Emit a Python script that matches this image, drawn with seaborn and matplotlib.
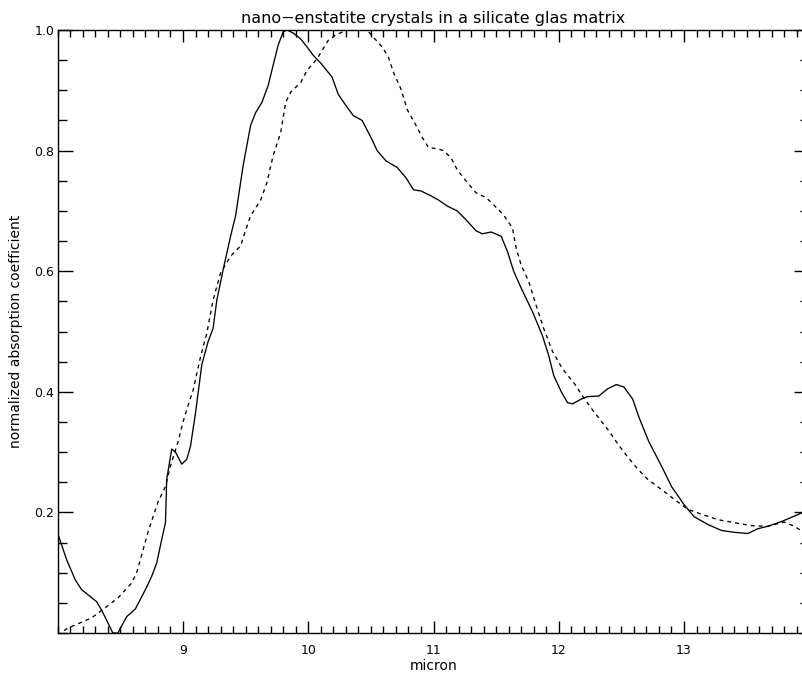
import numpy as np
import pandas as pd
import matplotlib
matplotlib.use("Agg")
import matplotlib.pyplot as plt
import seaborn as sns
from matplotlib.ticker import MultipleLocator, FixedLocator

# --- data ---
solid_x = [8.00, 8.07, 8.14, 8.19, 8.31, 8.35, 8.40, 8.44, 8.48, 8.55, 8.62, 8.70,
           8.75, 8.79, 8.83, 8.86, 8.87, 8.91, 8.94, 8.99, 9.03, 9.06, 9.10, 9.15,
           9.20, 9.24, 9.27, 9.32, 9.38, 9.42, 9.48, 9.54, 9.58, 9.63, 9.68, 9.72,
           9.76, 9.80, 9.83, 9.88, 9.94, 9.99, 10.04, 10.10, 10.19, 10.24, 10.30,
           10.36, 10.43, 10.50, 10.55, 10.62, 10.71, 10.78, 10.84, 10.90, 10.98,
           11.04, 11.11, 11.19, 11.27, 11.34, 11.39, 11.46, 11.54, 11.59, 11.64,
           11.70, 11.79, 11.87, 11.92, 11.96, 12.02, 12.07, 12.11, 12.18, 12.23,
           12.32, 12.39, 12.46, 12.52, 12.59, 12.64, 12.72, 12.82, 12.90, 13.00,
           13.08, 13.19, 13.30, 13.40, 13.51, 13.59, 13.67, 13.78, 13.86, 13.95]
solid_y = [0.165, 0.122, 0.088, 0.072, 0.052, 0.038, 0.017, 0.0, 0.0, 0.027, 0.040, 0.072,
           0.094, 0.116, 0.155, 0.183, 0.255, 0.305, 0.300, 0.280, 0.288, 0.310, 0.365, 0.445,
           0.483, 0.505, 0.552, 0.602, 0.658, 0.692, 0.775, 0.842, 0.863, 0.880, 0.908, 0.942,
           0.975, 0.997, 1.0, 0.995, 0.985, 0.972, 0.958, 0.945, 0.922, 0.893, 0.875,
           0.858, 0.850, 0.822, 0.800, 0.783, 0.772, 0.755, 0.735, 0.733, 0.725,
           0.718, 0.708, 0.700, 0.683, 0.667, 0.662, 0.665, 0.658, 0.633, 0.600,
           0.572, 0.533, 0.493, 0.460, 0.427, 0.400, 0.382, 0.380, 0.388, 0.392,
           0.393, 0.405, 0.412, 0.408, 0.388, 0.358, 0.317, 0.277, 0.243, 0.213,
           0.193, 0.180, 0.170, 0.167, 0.165, 0.173, 0.177, 0.185, 0.192, 0.200]

dashed_x = [8.05, 8.08, 8.18, 8.27, 8.38, 8.48, 8.59, 8.63, 8.66, 8.72, 8.80, 8.86,
            8.90, 8.96, 9.00, 9.04, 9.08, 9.14, 9.19, 9.24, 9.30, 9.38, 9.46, 9.50,
            9.54, 9.62, 9.67, 9.72, 9.78, 9.82, 9.86, 9.94, 9.99, 10.07, 10.16, 10.22,
            10.31, 10.39, 10.47, 10.52, 10.59, 10.64, 10.68, 10.74, 10.79, 10.86, 10.91,
            10.96, 11.03, 11.08, 11.14, 11.19, 11.27, 11.34, 11.42, 11.48, 11.56, 11.63,
            11.66, 11.70, 11.76, 11.82, 11.88, 11.95, 12.03, 12.12, 12.20, 12.28, 12.39,
            12.47, 12.55, 12.63, 12.71, 12.82, 12.92, 13.03, 13.14, 13.27, 13.40, 13.54,
            13.67, 13.80, 13.88, 13.95]
dashed_y = [0.004, 0.008, 0.017, 0.025, 0.042, 0.058, 0.083, 0.100, 0.122, 0.167, 0.217, 0.243,
            0.277, 0.317, 0.350, 0.377, 0.402, 0.458, 0.497, 0.552, 0.597, 0.625, 0.642, 0.668,
            0.692, 0.718, 0.747, 0.792, 0.830, 0.880, 0.897, 0.913, 0.933, 0.952, 0.983, 0.992,
            1.0, 1.0, 1.0, 0.988, 0.972, 0.955, 0.930, 0.902, 0.868, 0.842, 0.822,
            0.805, 0.803, 0.800, 0.788, 0.768, 0.747, 0.730, 0.722, 0.710, 0.693, 0.672,
            0.638, 0.610, 0.583, 0.543, 0.505, 0.467, 0.438, 0.415, 0.390, 0.367, 0.338,
            0.314, 0.292, 0.272, 0.255, 0.238, 0.222, 0.205, 0.197, 0.188, 0.183, 0.178,
            0.177, 0.184, 0.177, 0.168]

x_ticks = [9, 10, 11, 12, 13]
x_ticklabels = ["9", "10", "11", "12", "13"]
y_ticks = [0.2, 0.4, 0.6, 0.8, 1.0]
y_ticklabels = ["0.2", "0.4", "0.6", "0.8", "1.0"]

title = "nano\u2212enstatite crystals in a silicate glas matrix"
xlabel = "micron"
ylabel = "normalized absorption coefficient"

# --- plot ---
sns.set_style("white")
plt.rcParams["font.family"] = ["DejaVu Sans"]
plt.rcParams["text.color"] = "black"
plt.rcParams["axes.labelcolor"] = "black"
plt.rcParams["xtick.color"] = "black"
plt.rcParams["ytick.color"] = "black"
plt.rcParams["xtick.labelcolor"] = "black"
plt.rcParams["ytick.labelcolor"] = "black"

fig = plt.figure(figsize=(8.02, 6.75), dpi=100)
W, H = 802, 675
left_px, right_px, top_px, bottom_px = 57.75, 809.25, 30, 633
ax = fig.add_axes([left_px / W, (H - bottom_px) / H,
                   (right_px - left_px) / W, (bottom_px - top_px) / H])

df_s = pd.DataFrame({"x": solid_x, "y": solid_y})
df_d = pd.DataFrame({"x": dashed_x, "y": dashed_y})
sns.lineplot(data=df_s, x="x", y="y", ax=ax, color="black", lw=0.95,
             estimator=None, sort=False)
sns.lineplot(data=df_d, x="x", y="y", ax=ax, color="black", lw=0.95,
             estimator=None, sort=False)
ax.lines[-1].set_dashes((3, 3))

ax.set_xlim(8, 14)
ax.set_ylim(0, 1.0)

ax.xaxis.set_major_locator(FixedLocator(x_ticks))
ax.set_xticklabels(x_ticklabels)
ax.xaxis.set_minor_locator(MultipleLocator(0.1))
ax.yaxis.set_major_locator(FixedLocator(y_ticks))
ax.set_yticklabels(y_ticklabels)
ax.yaxis.set_minor_locator(MultipleLocator(0.05))

ax.tick_params(axis="x", which="major", direction="in", length=8.5, width=1,
               top=True, bottom=True, labelsize=9, pad=8, color="black",
               labelcolor="black")
ax.tick_params(axis="x", which="minor", direction="in", length=5, width=1,
               top=True, bottom=True, color="black")
ax.tick_params(axis="y", which="major", direction="in", length=11, width=1,
               left=True, right=True, labelsize=9, pad=2.5, color="black",
               labelcolor="black")
ax.tick_params(axis="y", which="minor", direction="in", length=6.5, width=1,
               left=True, right=True, color="black")

for sp in ax.spines.values():
    sp.set_color("black")
    sp.set_linewidth(1)

ax.set_title(title, fontsize=11.5, pad=5, color="black")
ax.set_xlabel(xlabel, fontsize=10, labelpad=1, color="black")
ax.set_ylabel(ylabel, fontsize=10, labelpad=8, color="black")
ax.grid(False)

fig.savefig("out.png", dpi=100)
